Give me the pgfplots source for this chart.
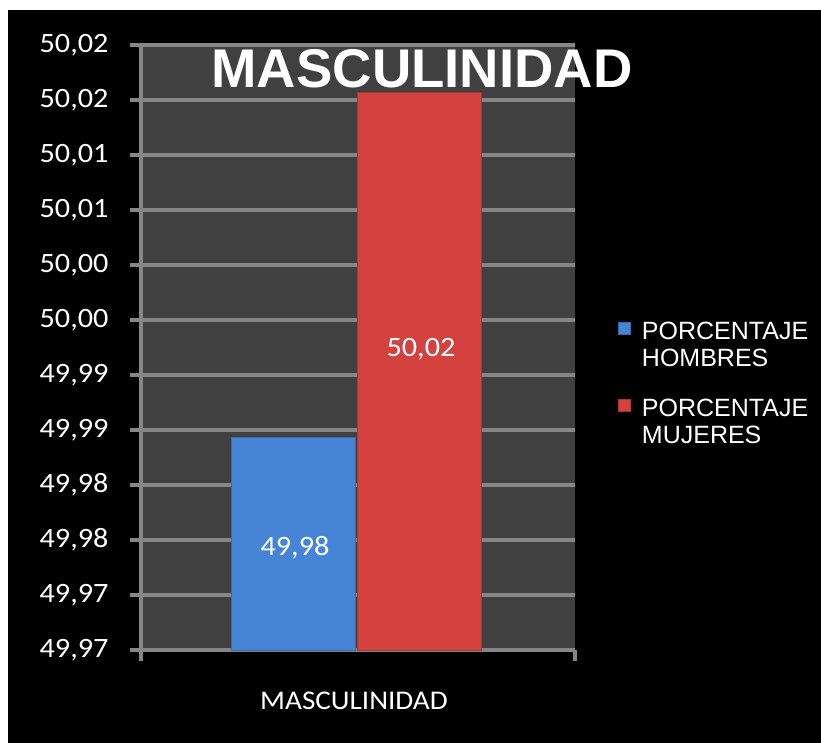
\documentclass[border=0pt]{standalone}
\usepackage{pgfplots}
\pgfplotsset{compat=1.18}
\usepackage{fontspec}
\setmainfont{Carlito}[FakeStretch=1.08]
\newfontfamily\arial{Liberation Sans}
\definecolor{plotbg}{RGB}{64,64,64}
\definecolor{gridc}{RGB}{134,134,134}
\definecolor{barblue}{RGB}{70,133,213}
\definecolor{barred}{RGB}{212,66,64}
\begin{document}
\begin{tikzpicture}[x=1pt,y=1pt]
\fill[white] (-20,20) rectangle (860,-780);
\fill[black] (8,-10) rectangle (860,-780);
\begin{axis}[
  at={(141pt,-650pt)}, anchor=south west,
  scale only axis, width=434pt, height=605pt,
  xmin=0, xmax=434, ymin=49.965, ymax=50.020,
  axis lines=left, axis line style={-, draw=gridc, line width=3.5pt},
  axis background/.style={fill=plotbg},
  ytick={49.965,49.970,49.975,49.980,49.985,49.990,49.995,50.000,50.005,50.010,50.015,50.020},
  yticklabels={{49,97},{49,97},{49,98},{49,98},{49,99},{49,99},{50,00},{50,00},{50,01},{50,01},{50,02},{50,02}},
  ymajorgrids, grid style={draw=gridc, line width=3.5pt},
  major tick style={draw=gridc, line width=3.5pt},
  tick align=outside, major tick length=11pt,
  xtick={0,434}, xticklabels={},
  yticklabel style={font=\fontsize{28}{28}\selectfont, text=white, xshift=-18pt},
  xlabel={MASCULINIDAD},
  xlabel style={font=\fontsize{27}{27}\selectfont, text=white, at={(axis description cs:0.5,0)}, anchor=base, yshift=-59pt, xshift=-4pt},
  legend image code/.code={\fill[#1] (0pt,10pt) rectangle (12pt,22pt);},
  legend style={at={(axis description cs:1.099,0.543)}, anchor=north west, draw=none, fill=none, inner sep=0pt,
    font=\arial\fontsize{25}{27}\selectfont, text=white, row sep=31pt,
    cells={align=left}, nodes={inner sep=0pt},
    /tikz/every odd column/.append style={column sep=11pt}},
  legend cell align=left,
]
\addplot[ybar, bar width=124, bar shift=0pt, fill=barblue, draw=barblue!80!black, line width=0.8pt] coordinates {(152,49.9843)};
\addlegendentry{PORCENTAJE\\HOMBRES}
\addplot[ybar, bar width=124, bar shift=0pt, fill=barred, draw=barred!80!black, line width=0.8pt] coordinates {(278,50.0157)};
\addlegendentry{PORCENTAJE\\MUJERES}
\node[text=white, font=\fontsize{28}{28}\selectfont] at (axis cs:154,49.9743) {49,98};
\node[text=white, font=\fontsize{28}{28}\selectfont] at (axis cs:280,49.9923) {50,02};
\end{axis}
\node[text=white, font=\arial\bfseries\fontsize{54.5}{54.5}\selectfont, anchor=base] at (422,-88) {MASCULINIDAD};
\pgfresetboundingbox
\path[use as bounding box] (0,0) rectangle (821,-743);
\end{tikzpicture}
\end{document}
